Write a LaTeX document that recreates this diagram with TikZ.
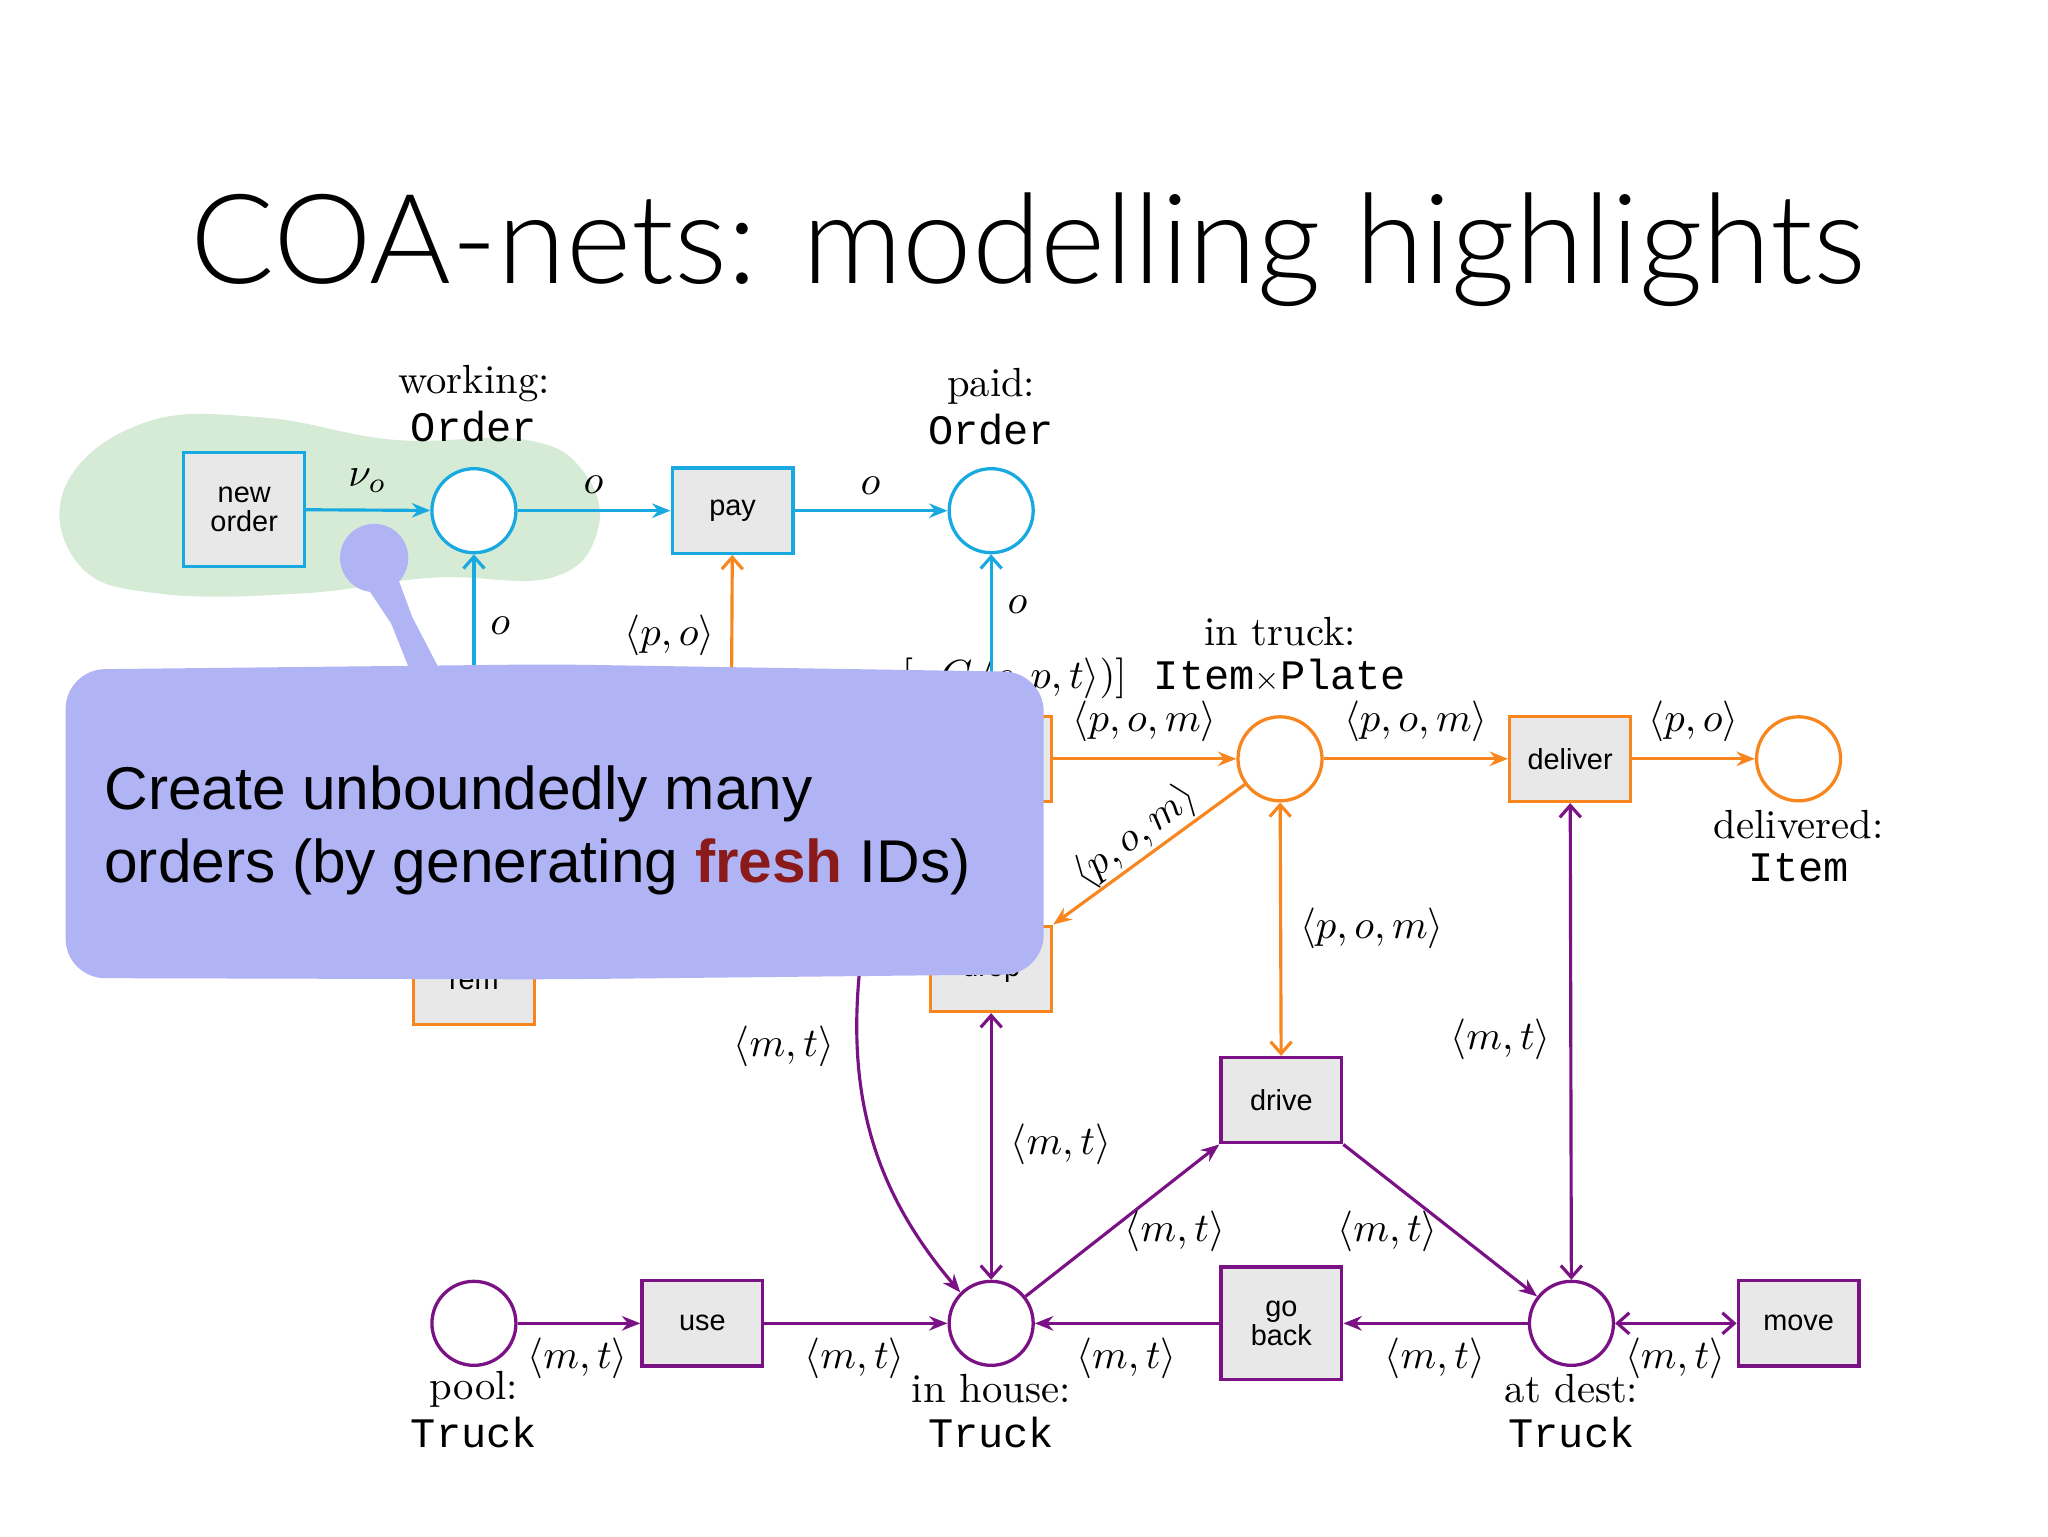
\documentclass[tikz,border=0pt]{standalone}
\usepackage{fontspec}
\usetikzlibrary{arrows.meta}
\newfontfamily\sansf{Liberation Sans}
\newfontfamily\titlef{Lato Light}
\newfontfamily\monof{Liberation Mono}
\definecolor{cy}{HTML}{19A9E1}
\definecolor{orn}{HTML}{F7861E}
\definecolor{pur}{HTML}{7A1285}
\definecolor{tgray}{HTML}{E8E8E8}
\definecolor{blob}{HTML}{D5EBD5}
\definecolor{call}{HTML}{B0B4F5}
\definecolor{fr}{HTML}{8B1A1A}
\begin{document}
\begin{tikzpicture}[x=1pt,y=-1pt,
  place/.style={circle,draw,line width=2.5pt,fill=white,minimum size=64pt,inner sep=0pt},
  trans/.style={rectangle,draw,line width=2.5pt,fill=tgray,minimum width=92pt,minimum height=65pt,inner sep=0pt,align=center,font=\sansf\fontsize{22}{26}\selectfont},
  arc/.style={line width=2.4pt,-{Stealth[length=14pt,width=11pt]}},
  barb/.style={line width=2.4pt,{Straight Barb[length=9pt,width=16pt]}-{Straight Barb[length=9pt,width=16pt]}},
  ubarb/.style={line width=2.4pt,-{Straight Barb[length=9pt,width=16pt]}},
  lbl/.style={text=black,scale=3.1,inner sep=1pt},
  nm/.style={text=black,scale=3.1,inner sep=0pt},
  ty/.style={font=\monof\fontsize{32}{32}\selectfont}]
\useasboundingbox (0,0) rectangle (1560,1170);
\fill[white] (0,0) rectangle (1560,1170);
\node[anchor=base] (title) at (783,216) {\titlef\fontsize{95}{95}\selectfont COA-nets: modelling highlights};
% green blob
\fill[blob] plot[smooth cycle,tension=0.7] coordinates {(50,370) (110,322) (200,318) (300,335) (400,335) (445,360) (455,405) (420,440) (330,440) (230,452) (120,452) (60,430)};
% places
\node[place,draw=cy] (working) at (361,389) {};
\node[place,draw=cy] (paid) at (755,389) {};
\node[place,draw=orn] (intruck) at (975,578) {};
\node[place,draw=orn] (delivered) at (1370,578) {};
\node[place,draw=pur] (pool) at (361,1008) {};
\node[place,draw=pur] (inhouse) at (755,1008) {};
\node[place,draw=pur] (atdest) at (1197,1008) {};
% transitions
\node[trans,draw=cy,minimum height=87pt] (new) at (186,388) {new\\[-4pt]order};
\node[trans,draw=cy] (pay) at (558,389) {pay};
\node[trans,draw=orn] (load) at (755,578) {load};
\node[trans,draw=orn] (deliver) at (1196,578) {deliver};
\node[trans,draw=orn] (drop) at (755,738) {drop};
\node[trans,draw=orn] (rem) at (361,748) {rem};
\node[trans,draw=pur] (drive) at (976,838) {drive};
\node[trans,draw=pur] (use) at (535,1008) {use};
\node[trans,draw=pur,minimum height=86pt] (goback) at (976,1008) {go\\[-4pt]back};
\node[trans,draw=pur] (move) at (1370,1008) {move};
% names
\node[nm] at (361,292) {working:}; \node[ty] at (361,325) {Order};
\node[nm] at (755,294) {paid:}; \node[ty] at (755,327) {Order};
\node[nm] at (975,481) {in truck:}; \node[ty] at (975,515) {Item$\times$Plate};
\node[lbl,anchor=east] (guard) at (862,517) {$[\neg C\,\langle c,p,t\rangle)]$};
\node[nm] at (1370,628) {delivered:}; \node[ty] at (1370,661) {Item};
\node[nm] at (361,1058) {pool:}; \node[ty] at (361,1091) {Truck};
\node[nm] at (755,1058) {in house:}; \node[ty] at (755,1091) {Truck};
\node[nm] at (1197,1058) {at dest:}; \node[ty] at (1197,1091) {Truck};
% cyan arcs
\draw[arc,cy] (new) -- (working);
\draw[arc,cy] (working) -- (pay);
\draw[arc,cy] (pay) -- (paid);
\draw[ubarb,cy] (rem) -- (working);
\draw[ubarb,cy] (load) -- (paid);
\node[lbl] (l1) at (280,366) {$\nu_o$};
\node[lbl] (l2) at (452,369) {$o$};
\node[lbl] (l3) at (663,370) {$o$};
\node[lbl] (l4) at (381,477) {$o$};
\node[lbl] (l5) at (775,461) {$o$};
% orange arcs
\coordinate (pp) at (557,560);
\draw[ubarb,orn] (pp) -- (pay);
\node[lbl] (l6) at (510,484) {$\langle p,o\rangle$};
\draw[arc,orn] (load) -- node[lbl,above,yshift=2pt]{$\langle p,o,m\rangle$} (intruck);
\draw[arc,orn] (intruck) -- node[lbl,above,yshift=2pt]{$\langle p,o,m\rangle$} (deliver);
\draw[arc,orn] (deliver) -- node[lbl,above,yshift=2pt]{$\langle p,o\rangle$} (delivered);
\draw[arc,orn] (intruck) -- (drop.north east);
\node[lbl,rotate=37] (l7) at (865,637) {$\langle p,o,m\rangle$};
\draw[barb,orn] (intruck) -- (drive);
\node[lbl] (l8) at (1045,707) {$\langle p,o,m\rangle$};
% purple arcs
\draw[barb,pur] (deliver) -- (atdest);
\node[lbl] (l9) at (1143,792) {$\langle m,t\rangle$};
\draw[barb,pur] (drop) -- (inhouse);
\node[lbl] (l10) at (808,872) {$\langle m,t\rangle$};
\coordinate (cs) at (660,700);
\draw[arc,pur] (cs) .. controls (640,820) and (660,900) .. (inhouse.north west);
\node[lbl] (l11) at (597,797) {$\langle m,t\rangle$};
\draw[arc,pur] (pool) -- (use);
\node[lbl] (l12) at (440,1035) {$\langle m,t\rangle$};
\draw[arc,pur] (use) -- (inhouse);
\node[lbl] (l13) at (651,1035) {$\langle m,t\rangle$};
\draw[arc,pur] (goback) -- (inhouse);
\node[lbl] (l14) at (858,1035) {$\langle m,t\rangle$};
\draw[arc,pur] (atdest) -- (goback);
\node[lbl] (l15) at (1093,1035) {$\langle m,t\rangle$};
\draw[barb,pur] (atdest) -- (move);
\node[lbl] (l16) at (1276,1035) {$\langle m,t\rangle$};
\draw[arc,pur] (inhouse) -- (drive.south west);
\node[lbl] (l17) at (895,938) {$\langle m,t\rangle$};
\draw[arc,pur] (drive.south east) -- (atdest);
\node[lbl] (l18) at (1057,938) {$\langle m,t\rangle$};
% callout
\fill[call] (285,425) circle (26);
\fill[call] (268,430) -- (300,432) -- (314,470) -- (340,520) -- (316,520) -- (298,475) -- cycle;
\fill[call,rounded corners=30pt] (50,510) -- (420,506) -- (795,512) -- (795,742) -- (420,746) -- (50,745) -- cycle;
\node[anchor=west,font=\sansf\fontsize{46}{46}\selectfont] (c1) at (76,605) {Create unboundedly many};
\node[anchor=west,font=\sansf\fontsize{46}{46}\selectfont] (c2) at (76,660) {orders (by generating {\color{fr}\bfseries fresh} IDs)};
\end{tikzpicture}
\end{document}
